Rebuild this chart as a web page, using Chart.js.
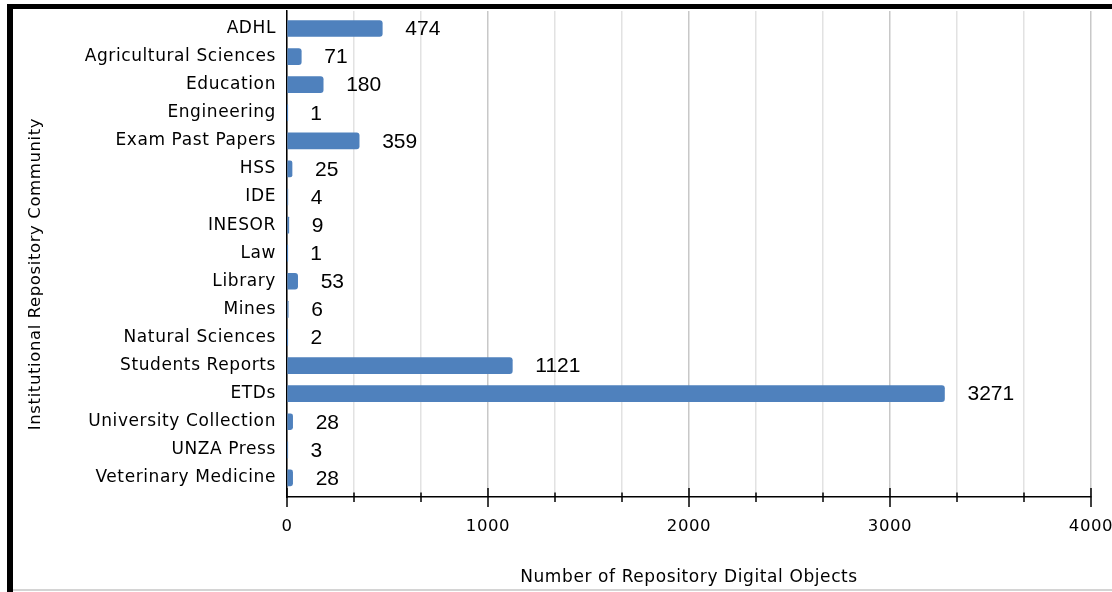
<!DOCTYPE html>
<html>
<head>
<meta charset="utf-8">
<script src="https://cdn.jsdelivr.net/npm/chart.js@4"></script>
<style>
  html, body { margin: 0; padding: 0; background: #fff; }
  #wrap { position: relative; width: 1112px; height: 592px; overflow: hidden; background: #fff; }
  #c { position: absolute; left: 0; top: 0; }
  .frameL { position: absolute; left: 7px; top: 4px; width: 6px; height: 588px; background: #000; }
  .frameT { position: absolute; left: 7px; top: 4px; width: 1105px; height: 5px; background: #000; }
  .frameB { position: absolute; left: 13px; top: 589px; width: 1099px; height: 2px; background: #d4d4d4; }
</style>
</head>
<body>
<div id="wrap">
  <canvas id="c" width="1112" height="592"></canvas>
  <div class="frameL"></div>
  <div class="frameT"></div>
  <div class="frameB"></div>
</div>
<script>
const categories = ["ADHL", "Agricultural Sciences", "Education", "Engineering", "Exam Past Papers", "HSS", "IDE", "INESOR", "Law", "Library", "Mines", "Natural Sciences", "Students Reports", "ETDs", "University Collection", "UNZA Press", "Veterinary Medicine"];
const objectCounts = [474, 71, 180, 1, 359, 25, 4, 9, 1, 53, 6, 2, 1121, 3271, 28, 3, 28];
const xTickLabels = [0, 1000, 2000, 3000, 4000];
const xAxisTitle = "Number of Repository Digital Objects";
const yAxisTitle = "Institutional Repository Community";

const points = objectCounts.map((v, i) => ({ x: v, y: i }));
const isMajor = v => xTickLabels.some(t => Math.abs(t - v) < 1e-6);
const FONT = '"DejaVu Sans", sans-serif';
const SPACING = '0.6px';

const textSpacing = {
  id: 'textSpacing',
  beforeLayout(chart) { if ('letterSpacing' in chart.ctx) chart.ctx.letterSpacing = SPACING; },
  beforeDraw(chart) { if ('letterSpacing' in chart.ctx) chart.ctx.letterSpacing = SPACING; }
};

const valueLabels = {
  id: 'valueLabels',
  afterDatasetsDraw(chart) {
    const ctx = chart.ctx;
    const meta = chart.getDatasetMeta(0);
    ctx.save();
    if ('letterSpacing' in ctx) ctx.letterSpacing = '0px';
    ctx.font = '21px "Liberation Sans", Arial, sans-serif';
    ctx.fillStyle = '#000';
    ctx.textAlign = 'left';
    ctx.textBaseline = 'middle';
    meta.data.forEach((el, i) => {
      ctx.fillText(String(objectCounts[i]), el.x + 23, el.y + 1);
    });
    ctx.restore();
  }
};

const axisMarks = {
  id: 'axisMarks',
  afterDraw(chart) {
    const ctx = chart.ctx;
    const xs = chart.scales.x;
    const base = chart.chartArea.bottom;
    ctx.save();
    ctx.strokeStyle = '#000';
    ctx.lineWidth = 1.5;
    xs.ticks.forEach(t => {
      const px = xs.getPixelForValue(t.value);
      const major = isMajor(t.value);
      ctx.beginPath();
      if (major) { ctx.moveTo(px, base - 9); ctx.lineTo(px, base + 10); }
      else { ctx.moveTo(px, base - 4.5); ctx.lineTo(px, base + 5); }
      ctx.stroke();
    });
    ctx.font = '16.5px ' + FONT;
    ctx.fillStyle = '#000';
    ctx.textAlign = 'center';
    ctx.textBaseline = 'middle';
    ctx.translate(36, 274);
    ctx.rotate(-Math.PI / 2);
    ctx.fillText(yAxisTitle, 0, 0);
    ctx.restore();
  }
};

new Chart(document.getElementById('c'), {
  type: 'bar',
  data: {
    datasets: [{
      data: points,
      backgroundColor: '#4f81bd',
      borderRadius: 3,
      borderSkipped: 'start',
      barThickness: 16
    }]
  },
  options: {
    indexAxis: 'y',
    responsive: false,
    animation: false,
    events: [],
    layout: { padding: { left: 0, right: 21, top: 11, bottom: 0 } },
    plugins: { legend: { display: false }, tooltip: { enabled: false } },
    scales: {
      x: {
        type: 'linear',
        position: 'bottom',
        min: 0,
        max: 4000,
        afterFit(s) { s.height = 95; s.paddingLeft = 0; s.paddingRight = 0; },
        ticks: {
          stepSize: 1000 / 3,
          autoSkip: false,
          maxRotation: 0,
          padding: 20,
          color: '#000',
          font: { family: FONT, size: 16.5 },
          callback: v => isMajor(v) ? String(Math.round(v)) : ''
        },
        grid: {
          drawTicks: false,
          color: c => (c.tick && isMajor(c.tick.value)) ? '#c8c8c8' : '#e2e2e2',
          lineWidth: 1.5
        },
        border: { display: true, color: '#000', width: 1.5 },
        title: {
          display: true,
          text: xAxisTitle,
          color: '#000',
          font: { family: FONT, size: 17 },
          padding: { top: 0, bottom: 4 }
        }
      },
      y: {
        type: 'linear',
        reverse: true,
        offset: false,
        min: -0.623,
        max: 16.68,
        afterFit(s) { s.width = 287; s.paddingTop = 0; s.paddingBottom = 0; },
        afterBuildTicks(s) { s.ticks = categories.map((_, i) => ({ value: i })); },
        ticks: {
          stepSize: 1,
          includeBounds: false,
          autoSkip: false,
          padding: 11,
          color: '#000',
          font: { family: FONT, size: 17 },
          callback: v => categories[v] !== undefined ? categories[v] : ''
        },
        grid: { display: false, drawTicks: false, offset: false },
        border: { display: true, color: '#000', width: 1.5 }
      }
    }
  },
  plugins: [textSpacing, valueLabels, axisMarks]
});
</script>
</body>
</html>
